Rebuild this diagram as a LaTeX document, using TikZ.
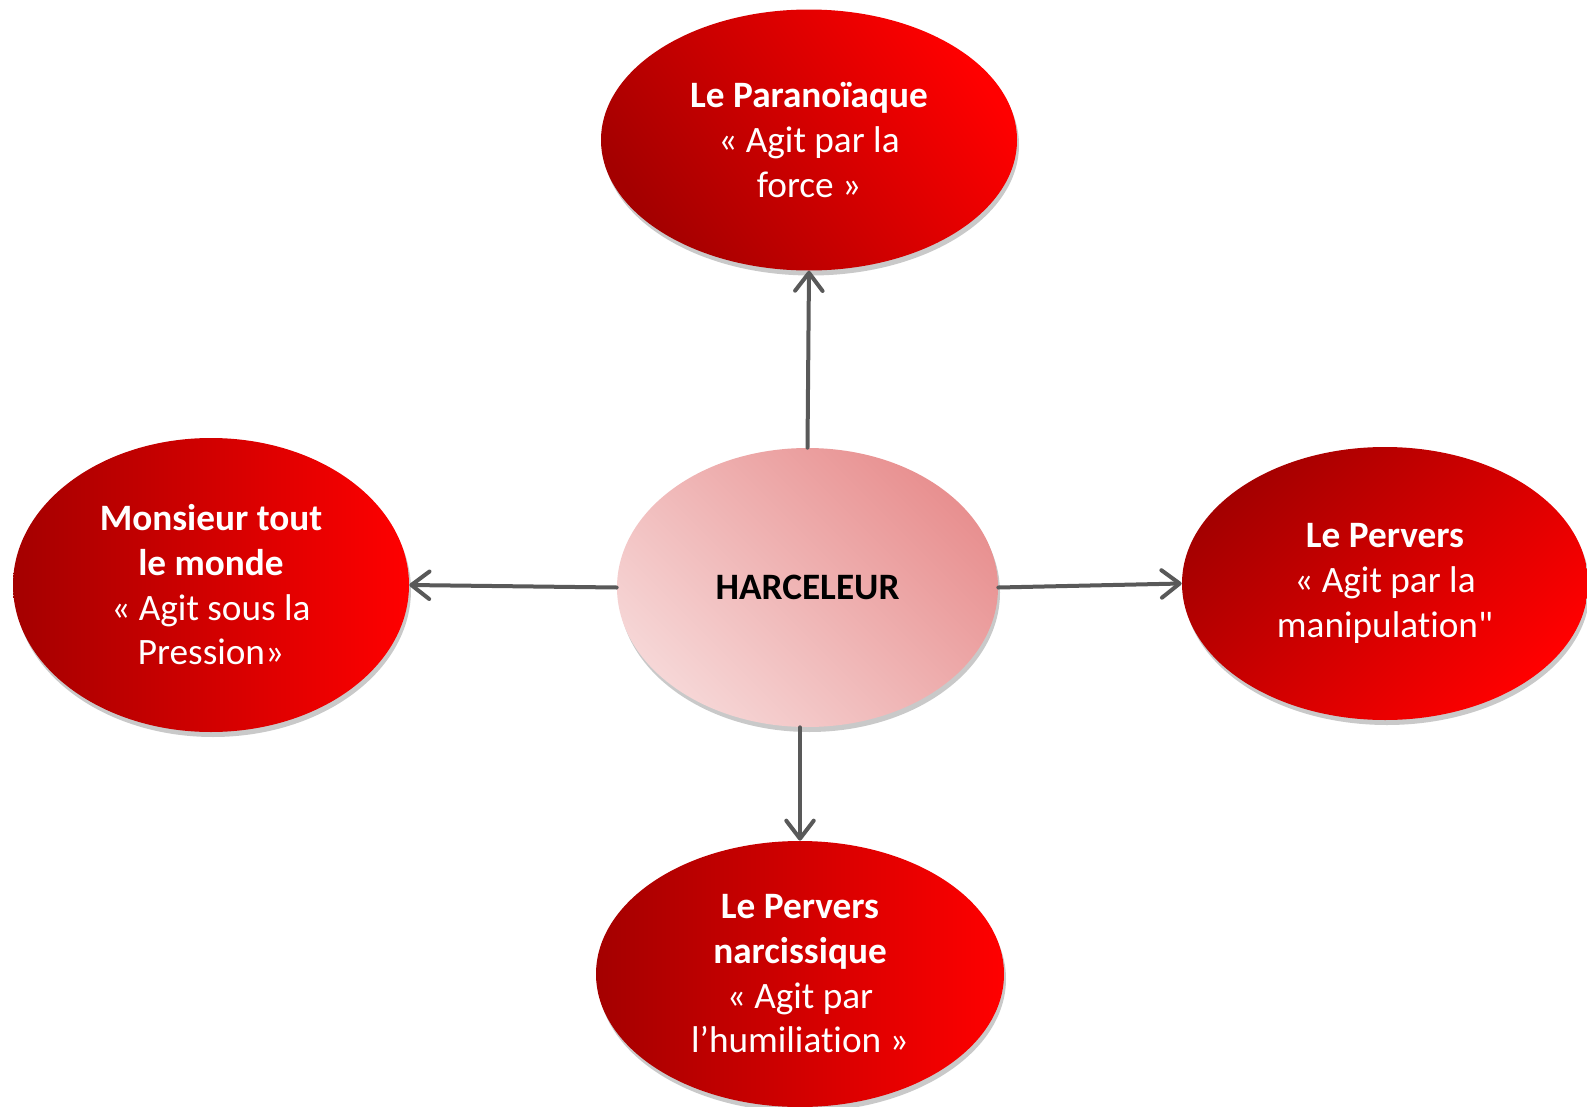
\documentclass[tikz,border=0pt]{standalone}
\usepackage{fontspec}
\setmainfont{Carlito}[Ligatures={TeXOff,CommonOff}]
\usepackage{tikz}
\usetikzlibrary{positioning,arrows.meta,shapes,shadows,calc}
\definecolor{rougefonce}{HTML}{A40000}
\definecolor{rougevif}{HTML}{FF0000}
\definecolor{rosepale}{HTML}{F6D6D6}
\definecolor{rosefonce}{HTML}{E89090}
\definecolor{fleche}{HTML}{595959}
\tikzset{
  profil/.style={ellipse,inner sep=0pt,align=center,text=white,
            left color=rougefonce,right color=rougevif,
            drop shadow={shadow xshift=0.04cm,shadow yshift=-0.1cm,
                         opacity=0.3,fill=black!70}},
  centre/.style={profil,text=black,left color=rosepale,right color=rosefonce},
  lien/.style={-{Straight Barb[length=0.36cm,width=0.55cm,round]},
            line width=0.08cm,draw=fleche,line cap=round},
}

\begin{document}
\begin{tikzpicture}[every node/.style={font=\fontsize{21.2}{25.4}\selectfont}]
  \useasboundingbox (0,0) rectangle (31.74,-22.14);
  % --- centre ---
  \node[centre,shading angle=135,minimum width=7.62cm,minimum height=5.58cm]
       (harc) at (16.15,-11.75) {\textbf{HARCELEUR}};
  % --- profils ---
  \node[profil,shading angle=125,minimum width=8.32cm,minimum height=5.22cm]
       (para) at (16.18,-2.80)
       {\textbf{Le Paranoïaque}\\« Agit par la\\force »};
  \node[profil,shading angle=90,minimum width=7.92cm,minimum height=5.88cm]
       (monsieur) at (4.22,-11.70)
       {\textbf{Monsieur tout}\\\textbf{le monde}\\« Agit sous la\\Pression»};
  \node[profil,shading angle=45,minimum width=8.12cm,minimum height=5.46cm]
       (pervers) at (27.70,-11.67)
       {\textbf{Le Pervers}\\« Agit par la\\manipulation"};
  \node[profil,shading angle=90,minimum width=8.16cm,minimum height=5.32cm]
       (pn) at (16.00,-19.48)
       {\textbf{Le Pervers}\\\textbf{narcissique}\\« Agit par\\l’humiliation »};
  % --- fleches ---
  \foreach \a/\b in {harc.north/para.south,harc.west/monsieur.east,
                     harc.east/pervers.west,{harc.south -| pn.north}/pn.north} {
    \draw[lien] (\a) -- (\b);
  }
\end{tikzpicture}
\end{document}
